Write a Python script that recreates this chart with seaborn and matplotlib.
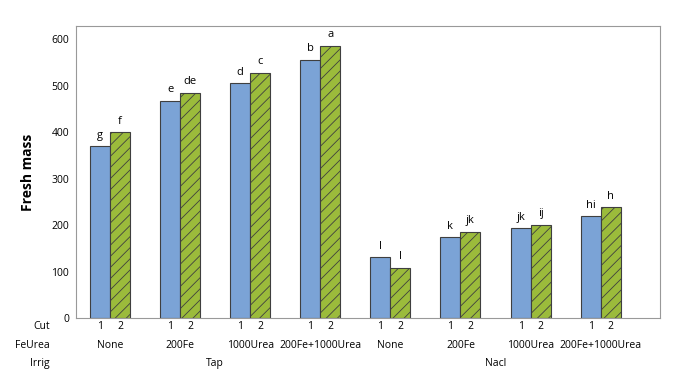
import pandas as pd
import matplotlib
matplotlib.use("Agg")
import matplotlib.pyplot as plt
import matplotlib.transforms as mtransforms
import seaborn as sns

# data
irrig = ["Tap"] * 4 + ["Nacl"] * 4
feurea = ["None", "200Fe", "1000Urea", "200Fe+1000Urea"] * 2
cut1 = [370, 468, 505, 556, 131, 174, 193, 219]
cut2 = [400, 485, 528, 586, 108, 186, 201, 238]
letters1 = ["g", "e", "d", "b", "l", "k", "jk", "hi"]
letters2 = ["f", "de", "c", "a", "l", "jk", "ij", "h"]

groups = [f"{i}-{f}" for i, f in zip(irrig, feurea)]
df = pd.DataFrame({
    "group": groups * 2,
    "Cut": ["1"] * 8 + ["2"] * 8,
    "mass": cut1 + cut2,
})

sns.set_style("white")
plt.rcParams["font.family"] = ["Open Sans", "DejaVu Sans"]
plt.rcParams["text.color"] = "black"
plt.rcParams["ytick.color"] = "#888888"
plt.rcParams["ytick.labelcolor"] = "black"
plt.rcParams["axes.labelcolor"] = "black"
plt.rcParams["hatch.color"] = "#3a3a3a"
plt.rcParams["hatch.linewidth"] = 0.6

fig = plt.figure(figsize=(6.73, 3.85), dpi=100)
ax = fig.add_axes([0.113, 0.174, 0.868, 0.758])

sns.barplot(data=df, x="group", y="mass", hue="Cut", order=groups,
            palette={"1": "#7ba3d6", "2": "#9bbb3b"}, saturation=1,
            width=0.57, gap=0, edgecolor="#3f3f3f", linewidth=0.8,
            legend=False, ax=ax)

for bar in ax.containers[1]:
    bar.set_hatch("///")

ax.set_xlim(-0.485, 7.85)
ax.set_ylim(0, 628)
ax.set_yticks([0, 100, 200, 300, 400, 500, 600])
ax.tick_params(axis="y", labelsize=7.5, length=3, pad=2)
ax.set_xticks([])
ax.set_xlabel("")
ax.set_ylabel("Fresh mass", fontsize=10, fontweight="bold", labelpad=12)
for s in ax.spines.values():
    s.set_color("#999999")
    s.set_linewidth(0.8)

# letters above bars
for cont, labs in zip(ax.containers, [letters1, letters2]):
    for bar, lab in zip(cont, labs):
        ax.annotate(lab, (bar.get_x() + bar.get_width() / 2, bar.get_height()),
                    xytext=(0, 4), textcoords="offset points",
                    ha="center", va="bottom", fontsize=8)

# multi-row category axis
trans = mtransforms.blended_transform_factory(ax.transData, ax.transAxes)
ftrans = mtransforms.blended_transform_factory(fig.transFigure, ax.transAxes)
rows = {"Cut": -0.03, "FeUrea": -0.095, "Irrig": -0.155}
for name, yy in rows.items():
    ax.text(50 / 673, yy, name, transform=ftrans, ha="right", va="center", fontsize=7.5)

for cut_label, cont in zip(["1", "2"], ax.containers):
    for bar in cont:
        ax.text(bar.get_x() + bar.get_width() / 2, rows["Cut"], cut_label,
                transform=trans, ha="center", va="center", fontsize=7.5)

for k, f in enumerate(feurea):
    ax.text(k, rows["FeUrea"], f, transform=trans, ha="center", va="center", fontsize=7.5)

for name in ["Tap", "Nacl"]:
    idx = [k for k, v in enumerate(irrig) if v == name]
    ax.text(sum(idx) / len(idx), rows["Irrig"], name, transform=trans,
            ha="center", va="center", fontsize=7.5)

fig.savefig("out.png", dpi=100)
